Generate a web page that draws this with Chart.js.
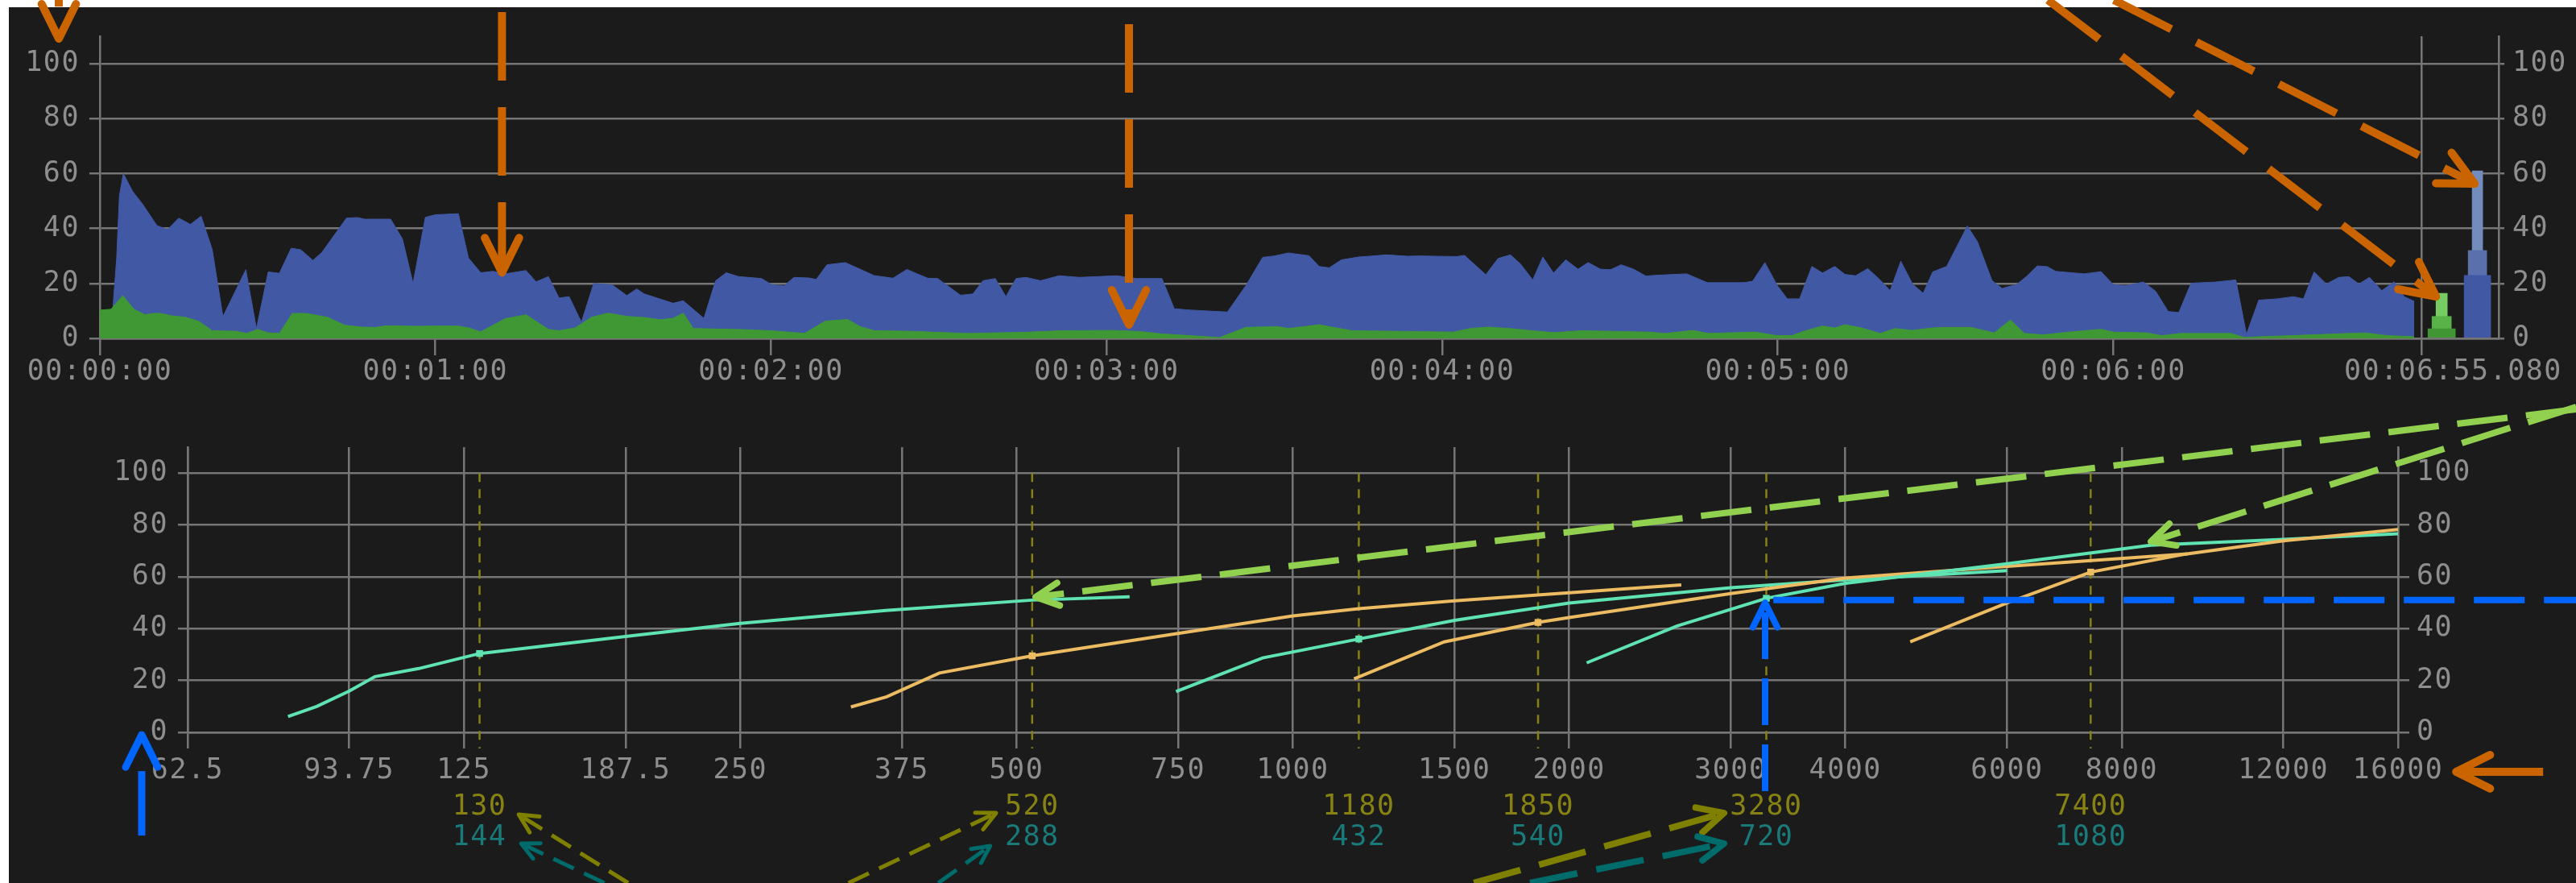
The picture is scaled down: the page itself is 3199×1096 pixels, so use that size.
<!DOCTYPE html>
<html>
<head>
<meta charset="utf-8">
<script src="https://cdn.jsdelivr.net/npm/chart.js@4.4.1/dist/chart.umd.min.js"></script>
<style>
  html, body { margin: 0; padding: 0; background: #ffffff; }
  body { width: 3199px; height: 1096px; position: relative; overflow: hidden; }
  #panel { position: absolute; left: 11px; top: 9px; right: 0; bottom: 0; background: #1b1b1b; }
  canvas { position: absolute; left: 0; }
  #top { top: 0; }
  #bottom { top: 470px; }
</style>
</head>
<body>
<div id="panel"></div>
<canvas id="top" width="3199" height="509"></canvas>
<canvas id="bottom" width="3199" height="626"></canvas>
<script>
// ---- top panel: level over time (seconds) ----
var blueT = [0,2.3,3,3.5,4.2,5.9,7.6,10.2,12.1,14.1,16.2,18.1,20.1,22,26.1,28,30.1,32.1,34.2,35.9,38.1,39.7,44.1,46,47.4,52,54.1,56,58.2,60,64.1,65.9,68.1,70.3,72.5,76.2,78,80.2,82.1,83.9,86.1,88.3,91.6,94.2,96,97.3,102.5,104.3,108,110.1,112,114.2,118.3,120.1,122.3,124.1,126.7,128.1,130,133.3,138.4,141.8,144.3,148,149.8,153.9,156.1,157.9,160.1,162,163.8,165.6,168.2,171.5,175.2,181.8,185.4,189.9,192.1,195,201.6,204.9,207.9,210,212.5,216.2,218,219.8,222,225,230.1,233.8,236,242.6,244,247.8,250,252.2,254,256.2,258,259.9,262.1,264.3,266.1,268.3,270.1,272,274.2,276.4,278.6,283.7,287.4,294,295.5,297.7,299.9,301.7,303.9,306.1,308,310.2,312,313.9,316.1,318.3,320.1,322,324.1,326,327.7,330.2,333.9,335.7,338.3,340.1,342.7,344.5,346.4,348.2,349.7,354.8,357.8,360,362.2,365.4,367.6,369.8,371.7,373.9,378.3,381.9,383.8,386,389.3,392.2,394,395.9,398.1,400.3,402.1,403.9,405.8,408,410.2,412,413.8];
var blueV = [10,10,29,52,60,53.4,49,41.1,39.6,43.8,41.5,44.5,32.3,7.9,25,3.5,24.2,23.7,32.8,32.3,28.4,31.3,43.8,44,43.4,43.4,36.2,20,44.1,45,45.4,29.3,23.9,24.4,23.5,24.7,20.6,22.5,14.7,15.2,5.9,20,19.5,15.6,18,16.2,12.8,13.7,7.3,21,23.9,22.5,21.8,19.6,19.1,22.2,22,21.5,26.8,27.6,22.9,21.9,25.1,21.9,21.8,15.7,16.2,21,21.8,15.2,21.8,22.2,21,22.8,22.2,22.8,21.8,21.8,10.8,10.3,9.6,19.2,29.5,30,31.1,30.1,26.2,25.7,28.6,29.6,30.4,29.9,30,29.8,30.2,23.2,29.1,30.4,27.1,21.3,29.6,23.8,28.6,25.2,27.6,25.2,25,26.8,25.2,22.7,23,23.5,20.3,20.3,20.8,27.6,19.3,14.4,14.4,26.2,23.8,26.2,23.3,22.8,25.4,21.3,17.4,28.1,19.8,16.4,24.2,26.2,40.9,35.2,21.1,18.2,19.6,22.6,26.4,26.1,24.4,23.5,24.3,19.6,19.2,20.5,17.1,9.8,9.4,20.1,20.5,21.3,1.5,13.9,14.4,15.2,14.4,24.2,19.8,22.2,22.5,19.8,22.2,17.4,20.6,15.2,13.5];
var greenT = [0,2,4.1,6.1,8.1,9.5,10.9,12.9,15.3,17.7,20.1,24.4,26.3,28.2,30.1,32.1,34.4,36.9,39.3,40.7,43.8,46.9,49.3,51.3,54.1,57,60,64,66,68.1,72.5,76.2,80.2,82.1,85,87.9,90.9,94.2,97.3,100.2,102.5,104.3,106.1,115,120,126,129.7,133.7,135.9,138.5,145,155,165,172,181.4,186,190,195,200.2,204.9,210.5,212.5,215.4,218,220.5,224,242,245,248.3,252,256,260,265,277,280,284.8,287.5,296,299.9,302.5,305,308,310.2,312,315,318.3,321,324,327.7,330,334.5,338.7,341.6,344.1,347.5,352,357.8,360,366,368.7,372,381,383.5,386,392,402,405,409,413.8];
var greenV = [10.3,10.6,15.6,10.6,8.6,9.1,9.1,8.2,7.7,6.2,2.8,2.6,1.8,3.3,2,1.8,9.1,9.1,8.2,7.7,4.8,4.1,4,4.6,4.5,4.4,4.5,4.5,3.8,2.4,7.2,8.6,3.3,2.8,3.8,7.7,9.2,8,7.6,6.8,7.3,9.2,3.6,3.2,2.8,1.8,6.3,6.9,4.3,2.8,2.6,1.8,2.2,2.8,2.9,2.5,1.6,1,0.3,4,4.3,3.6,4.3,5,4,2.8,2.3,3.6,4.1,3.6,2.8,2.1,2.8,2.3,1.8,2.9,1.8,2.3,1,1,2.8,4.5,3.8,5,3.8,1.8,3.6,2.9,3.8,4,4,2,6.7,1.8,1.3,2.3,3.3,2.3,2,1,1.8,1.8,0.3,0.6,1,1.8,2,1,0.6];
var timeTicks = [0, 60, 120, 180, 240, 300, 360, 415.08];
var timeLabels = ['00:00:00', '00:01:00', '00:02:00', '00:03:00', '00:04:00', '00:05:00', '00:06:00', '00:06:55.080'];
var levelTicks = [0, 20, 40, 60, 80, 100];
// summary columns right of the timeline
var sumAt = [418.7, 425.1];
var greenLevels = [3.5, 8, 16.4];
var blueLevels = [22.9, 32, 61];

// ---- bottom panel: curves over frequency (Hz) ----
var freqTicks = [62.5, 93.75, 125, 187.5, 250, 375, 500, 750, 1000, 1500, 2000, 3000, 4000, 6000, 8000, 12000, 16000];
var markerFreqs = [130, 520, 1180, 1850, 3280, 7400];
var markerAlt = [144, 288, 432, 540, 720, 1080];
var c1F = [80.4, 86.4, 93.75, 100, 111.6, 130, 187.5, 250, 360, 520, 664];
var c1V = [6.1, 10, 15.9, 21.5, 24.6, 30.4, 37, 42, 47, 51, 52.3];
var o1F = [330, 361, 412, 520, 752, 1000, 1180, 1500, 2000, 2650];
var o1V = [9.8, 13.7, 22.9, 29.5, 38.2, 44.9, 47.7, 50.7, 53.8, 56.9];
var c2F = [746, 927, 1180, 1500, 2000, 3000, 4000, 6000];
var c2V = [15.7, 28.7, 36, 43.2, 49.9, 55.8, 58.8, 62.4];
var o2F = [1166, 1462, 1850, 2000, 3000, 4000, 6000, 9430];
var o2V = [20.6, 34.9, 42.4, 44.3, 53.5, 59.5, 64, 68.8];
var c3F = [2090, 2620, 3280, 4000, 6000, 8600, 12000, 16000];
var c3V = [26.8, 41, 51.7, 57.5, 65, 72.2, 74.4, 76.6];
var o3F = [4706, 6000, 7400, 9325, 12000, 16000];
var o3V = [34.9, 49.9, 61.8, 68.6, 73.9, 78.2];

var gridCol = '#767676';
var labelCol = '#8e8e8e';
var mono = '"DejaVu Sans Mono", monospace';
var fontPx = 35;
var cyan = '#5fe3b2';
var amber = '#ecbb62';
var oliveCol = '#878214';
var tealCol = '#1a7a7a';
var orange = '#c96400', blue = '#0066ff', lime = '#92d050', olive = '#808000', teal = '#006b6b';

// callout arrows, in each chart's own data units
var topNotes = [
  { from: [-7.34, 129], to: [-7.34, 109.1], color: orange, width: 10, dash: [28, 60], head: 48 },
  { from: [71.9, 118.8], to: [71.9, 24.0], color: orange, width: 10, dash: [85, 33], head: 48 },
  { from: [184.0, 114.4], to: [184.0, 5.0], color: orange, width: 10, dash: [85, 33], head: 48 },
  { from: [360.1, 123.2], to: [424.6, 56.3], color: orange, width: 10, dash: [80, 35], head: 48 },
  { from: [348.3, 123.2], to: [417.7, 15.2], color: orange, width: 10, dash: [80, 35], head: 48 }
];
var botNotes = [
  { from: [55.7, -39.8], to: [55.7, -0.9], color: blue, width: 9, dash: [80, 60], head: 45 },
  { from: [3270, -22.7], to: [3270, 50.0], color: blue, width: 8, dash: [58, 24], head: 34 },
  { from: [3338, 51.0], to: [26000, 51.0], color: blue, width: 8, dash: [63, 24], head: 0 },
  { from: [23025, -15.2], to: [18513, -15.2], color: orange, width: 10, dash: [], head: 47 },
  { from: [25020, 124.6], to: [524.5, 52.2], color: lime, width: 8, dash: [63, 23], head: 32 },
  { from: [25020, 125.5], to: [8607, 73.6], color: lime, width: 8, dash: [63, 23], head: 32 },
  { from: [188.7, -58.1], to: [143.4, -31.7], color: olive, width: 5, dash: [28, 14], head: 26 },
  { from: [177.8, -58.1], to: [144.3, -42.9], color: teal, width: 5, dash: [28, 14], head: 24 },
  { from: [328, -58.1], to: [475, -31.1], color: olive, width: 5, dash: [28, 14], head: 26 },
  { from: [410.8, -58.1], to: [468, -43.8], color: teal, width: 5, dash: [28, 14], head: 24 },
  { from: [1575, -58.1], to: [2950, -31.1], color: olive, width: 8, dash: [60, 24], head: 36 },
  { from: [1813, -58.1], to: [2950, -42.9], color: teal, width: 8, dash: [60, 24], head: 34 }
];

function pts(xs, ys) {
  return xs.map(function (x, i) { return { x: x, y: ys[i] }; });
}

function arrow(ctx, x1, y1, x2, y2, n) {
  ctx.save();
  ctx.strokeStyle = n.color;
  ctx.lineWidth = n.width;
  ctx.setLineDash(n.dash);
  ctx.lineCap = 'butt';
  ctx.beginPath();
  ctx.moveTo(x1, y1);
  ctx.lineTo(x2, y2);
  ctx.stroke();
  if (n.head > 0) {
    var a = Math.atan2(y2 - y1, x2 - x1);
    ctx.setLineDash([]);
    ctx.lineCap = 'round';
    ctx.lineJoin = 'round';
    ctx.beginPath();
    ctx.moveTo(x2 - n.head * Math.cos(a - 0.46), y2 - n.head * Math.sin(a - 0.46));
    ctx.lineTo(x2, y2);
    ctx.lineTo(x2 - n.head * Math.cos(a + 0.46), y2 - n.head * Math.sin(a + 0.46));
    ctx.stroke();
  }
  ctx.restore();
}

function notesPlugin(notes) {
  return {
    id: 'notes',
    afterDraw: function (chart) {
      var sx = chart.scales.x, sy = chart.scales.y;
      notes.forEach(function (n) {
        arrow(chart.ctx, sx.getPixelForValue(n.from[0]), sy.getPixelForValue(n.from[1]),
          sx.getPixelForValue(n.to[0]), sy.getPixelForValue(n.to[1]), n);
      });
    }
  };
}

var spacing = {
  id: 'spacing',
  beforeDraw: function (chart) { chart.ctx.letterSpacing = '1.5px'; }
};

// the end label sits left of its tick so it stays on the page
var endLabel = {
  id: 'endLabel',
  afterDraw: function (chart) {
    var sx = chart.scales.x;
    var ctx = chart.ctx;
    ctx.save();
    ctx.font = fontPx + 'px ' + mono;
    ctx.fillStyle = labelCol;
    ctx.textAlign = 'left';
    ctx.textBaseline = 'middle';
    ctx.fillText(timeLabels[timeLabels.length - 1], sx.getPixelForValue(timeTicks[timeTicks.length - 1]) - 96, sx.top + 21 + 0 + fontPx * 0.6);
    ctx.restore();
  }
};

function levelAxis(pos, width, tickLen, pad) {
  return {
    type: 'linear', position: pos, min: 0, max: 110, bounds: 'data',
    grid: {
      color: gridCol, lineWidth: 2.5, tickLength: tickLen, drawOnChartArea: pos === 'left',
      tickColor: function (c) { return c.tick && c.tick.value === 110 ? 'transparent' : gridCol; }
    },
    border: { color: gridCol, width: 2.5 },
    ticks: {
      stepSize: 10, padding: pad, color: labelCol, font: { family: mono, size: fontPx },
      callback: function (v) { return levelTicks.indexOf(v) >= 0 ? String(v) : ''; }
    },
    afterFit: function (s) { s.width = width; }
  };
}

function sumBar(lo, hi, color, w) {
  return { type: 'bar', data: [{ x: lo[0], y: [lo[1], hi] }], backgroundColor: color, barThickness: w, grouped: false, borderWidth: 0 };
}

var base = {
  responsive: false, animation: false, devicePixelRatio: 1, events: [],
  plugins: { legend: { display: false }, tooltip: { enabled: false } }
};

new Chart(document.getElementById('top'), {
  type: 'line',
  data: {
    datasets: [
      { data: pts(greenT, greenV), backgroundColor: '#3f9834', borderColor: '#3f9834', borderWidth: 1, fill: 'origin', pointRadius: 0 },
      { data: pts(blueT, blueV), backgroundColor: '#4158a5', borderColor: '#4158a5', borderWidth: 1, fill: 'origin', pointRadius: 0 },
      sumBar([sumAt[0], 0], greenLevels[0], '#409632', 34),
      sumBar([sumAt[0], greenLevels[0]], greenLevels[1], '#58b248', 24),
      sumBar([sumAt[0], greenLevels[1]], greenLevels[2], '#76cc62', 14),
      sumBar([sumAt[1], 0], blueLevels[0], '#4158a5', 33),
      sumBar([sumAt[1], blueLevels[0]], blueLevels[1], '#5a70ac', 23),
      sumBar([sumAt[1], blueLevels[1]], blueLevels[2], '#738cbe', 13)
    ]
  },
  options: Object.assign({}, base, {
    layout: { padding: { top: 45, left: 0, right: 0, bottom: 0 } },
    scales: {
      x: {
        type: 'linear', min: 0, max: 428.9, bounds: 'data', offset: false,
        grid: {
          offset: false, lineWidth: 2.5, tickLength: 21, tickColor: gridCol,
          color: function (c) { return c.tick && c.tick.value === timeTicks[timeTicks.length - 1] ? gridCol : 'transparent'; }
        },
        border: { color: gridCol, width: 2.5 },
        afterBuildTicks: function (s) { s.ticks = timeTicks.map(function (v) { return { value: v }; }); },
        ticks: {
          autoSkip: false, maxRotation: 0, minRotation: 0, padding: 0, color: labelCol, font: { family: mono, size: fontPx },
          callback: function (v, i) { return i === timeTicks.length - 1 ? '' : timeLabels[i]; }
        },
        afterFit: function (s) { s.height = 89; }
      },
      y: levelAxis('left', 124, 13, 12),
      y2: levelAxis('right', 96, 7, 10)
    }
  }),
  plugins: [spacing, endLabel, notesPlugin(topNotes)]
});

function curve(fs, vs, mark, color) {
  return {
    data: pts(fs, vs), borderColor: color, backgroundColor: color, borderWidth: 4, fill: false,
    pointStyle: 'rect', pointBorderWidth: 0,
    pointRadius: function (c) { return c.raw && c.raw.x === mark ? 6 : 0; }
  };
}

var guides = markerFreqs.map(function (f) {
  return {
    data: [{ x: f, y: 100 }, { x: f, y: -6.2 }], borderColor: oliveCol, borderWidth: 2.5,
    borderDash: [11, 9], pointRadius: 0, fill: false, clip: false
  };
});

function freqAxis(extra) {
  return Object.assign({
    type: 'logarithmic', min: 62.5, max: 16000, bounds: 'data', position: 'bottom'
  }, extra);
}

new Chart(document.getElementById('bottom'), {
  type: 'line',
  data: {
    datasets: [
      curve(o3F, o3V, 7400, amber),
      curve(c3F, c3V, 3280, cyan),
      curve(o2F, o2V, 1850, amber),
      curve(c2F, c2V, 1180, cyan),
      curve(o1F, o1V, 520, amber),
      curve(c1F, c1V, 130, cyan)
    ].concat(guides)
  },
  options: Object.assign({}, base, {
    layout: { padding: { top: 85, left: 0, right: 0, bottom: 0 } },
    scales: {
      x: freqAxis({
        weight: 0,
        grid: { color: gridCol, lineWidth: 2.5, tickLength: 20 },
        border: { color: gridCol, width: 2.5 },
        afterBuildTicks: function (s) { s.ticks = freqTicks.map(function (v) { return { value: v }; }); },
        ticks: {
          autoSkip: false, maxRotation: 0, minRotation: 0, padding: 7, color: labelCol, font: { family: mono, size: fontPx },
          callback: function (v, i) { return String(freqTicks[i]); }
        },
        afterFit: function (s) { s.height = 68; }
      }),
      x2: freqAxis({
        weight: 1,
        grid: { display: false, drawTicks: false },
        border: { display: false },
        afterBuildTicks: function (s) { s.ticks = markerFreqs.map(function (v) { return { value: v }; }); },
        ticks: {
          autoSkip: false, maxRotation: 0, minRotation: 0, padding: 4, color: oliveCol, font: { family: mono, size: fontPx },
          callback: function (v, i) { return String(markerFreqs[i]); }
        },
        afterFit: function (s) { s.height = 38; }
      }),
      x3: freqAxis({
        weight: 2,
        grid: { display: false, drawTicks: false },
        border: { display: false },
        afterBuildTicks: function (s) { s.ticks = markerFreqs.map(function (v) { return { value: v }; }); },
        ticks: {
          autoSkip: false, maxRotation: 0, minRotation: 0, padding: 4, color: tealCol, font: { family: mono, size: fontPx },
          callback: function (v, i) { return String(markerAlt[i]); }
        },
        afterFit: function (s) { s.height = 81; }
      }),
      y: levelAxis('left', 233, 12, 12),
      y2: levelAxis('right', 221, 14, 9)
    }
  }),
  plugins: [spacing, notesPlugin(botNotes)]
});
</script>
</body>
</html>
